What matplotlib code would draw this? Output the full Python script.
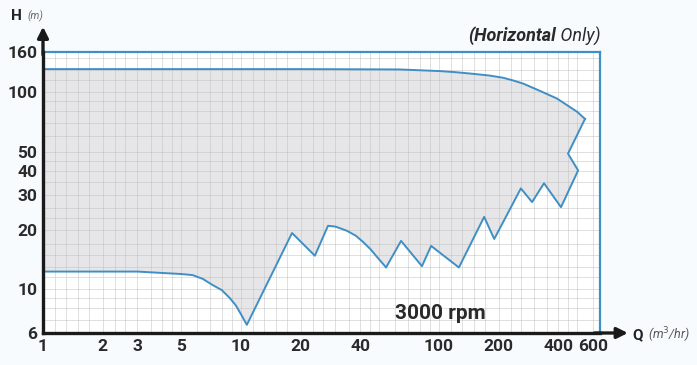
import matplotlib.pyplot as plt
import numpy as np

# upper limit curve (flow Q in m3/hr, head H in m)
top_q = [1, 20, 63, 101, 120, 148.5, 180, 210, 235, 266, 324, 394, 443, 498, 546]
top_h = [131, 131, 130.5, 128, 126.5, 124, 121.5, 118.5, 115, 110.6, 101.5, 92.9, 86, 79.6, 73.2]

# lower limit curve, read left to right
low_q = [1, 3, 4, 5, 5.7, 6.4, 7.2, 8.0, 8.8, 9.4, 9.9, 10.7, 18.1, 23.6, 27.5, 30, 34.3, 38,
         41.3, 45, 48.6, 52, 54, 64.3, 82, 91.2, 126, 169, 190, 259, 295, 339, 413, 504, 448, 546]
low_h = [12.3, 12.3, 12.1, 11.95, 11.8, 11.3, 10.5, 9.9, 9.0, 8.3, 7.6, 6.6, 19.3, 14.8, 21.0, 20.8,
         19.8, 18.7, 17.4, 16.0, 14.6, 13.5, 12.9, 17.6, 13.1, 16.6, 12.9, 23.3, 18.0, 32.5, 27.7,
         34.5, 26.1, 40.1, 48.8, 73.2]

x_ticks = [1, 2, 3, 5, 10, 20, 40, 100, 200, 400, 600]
y_ticks = [6, 10, 20, 30, 40, 50, 100, 160]

blue = '#3f8fc4'
font = ['Liberation Sans Narrow', 'Roboto', 'DejaVu Sans']
plt.rcParams['font.family'] = font

fig = plt.figure(figsize=(6.97, 3.65), dpi=100)
fig.patch.set_facecolor('#f8fbfd')
ax = fig.add_axes([43/697, 32/365, 557/697, 281/365])
ax.set_facecolor('white')
ax.set_xscale('log'); ax.set_yscale('log')
ax.set_xlim(1, 650); ax.set_ylim(6, 160)

# shaded operating range
poly_q = top_q + low_q[::-1]
poly_h = top_h + low_h[::-1]
ax.fill(poly_q, poly_h, color='#e6e6e8', lw=0, zorder=1)
ax.plot(top_q, top_h, color=blue, lw=1.4, zorder=4)
ax.plot(low_q, low_h, color=blue, lw=1.4, zorder=4)

# graph-paper grid
subs = [1, 1.15, 1.3, 1.5, 1.7, 2, 2.3, 2.6, 3, 3.5, 4, 4.5, 5, 6, 7, 8, 9]
for d in [1, 10, 100]:
    for s in subs:
        v = d * s
        if v < 650:
            ax.axvline(v, color='#bdbdbd', lw=0.6, alpha=0.55, zorder=2)
        if 6 < v < 160:
            ax.axhline(v, color='#bdbdbd', lw=0.6, alpha=0.55, zorder=2)

ax.set_xticks(x_ticks)
ax.set_xticklabels([str(t) for t in x_ticks])
ax.set_yticks(y_ticks)
ax.set_yticklabels([str(t) for t in y_ticks])
ax.minorticks_off()
ax.tick_params(length=0, labelsize=12.5, labelcolor='#2a2a2a', pad=4)
for lab in ax.get_xticklabels() + ax.get_yticklabels():
    lab.set_fontweight('bold')

for s in ['left', 'bottom']:
    ax.spines[s].set_color('#1a1a1a'); ax.spines[s].set_linewidth(2.4); ax.spines[s].set_zorder(6)
for s in ['top', 'right']:
    ax.spines[s].set_color(blue); ax.spines[s].set_linewidth(1.6)

# axis arrows
ax.annotate('', xy=(0, 1.09), xytext=(0, 0.99), xycoords='axes fraction',
            arrowprops=dict(arrowstyle='-|>', lw=2.4, color='#1a1a1a', mutation_scale=16,
                            shrinkA=0, shrinkB=0))
ax.annotate('', xy=(1.05, 0), xytext=(0.99, 0), xycoords='axes fraction',
            arrowprops=dict(arrowstyle='-|>', lw=2.4, color='#1a1a1a', mutation_scale=16,
                            shrinkA=0, shrinkB=0))

fig.text(11/697, 1 - 16/365, 'H', fontsize=11, fontweight='bold', color='#222222', va='center')
fig.text(27/697, 1 - 16/365, '(m)', fontsize=7.5, style='italic', color='#666666', va='center')
fig.text(632/697, 1 - 335/365, 'Q', fontsize=11, fontweight='bold', color='#222222', va='center')
fig.text(648/697, 1 - 335/365, '(m$^3$/hr)', fontsize=9, style='italic', color='#555555', va='center')

ax.text(0.713, 0.07, '3000 rpm', transform=ax.transAxes, fontsize=15, fontweight='bold',
        color='#2a2a2a', ha='center', va='center', zorder=7)

# title pieces, right edge aligned with the frame
only = fig.text(601/697, 1 - 36/365, ' Only)', fontsize=13, style='italic', color='#2a2a2a',
                ha='right', va='center')
fig.canvas.draw()
w = only.get_window_extent().width
fig.text((601 - w)/697, 1 - 36/365, '(Horizontal', fontsize=13, fontweight='bold', style='italic',
         color='#2a2a2a', ha='right', va='center')

fig.savefig('out.png', dpi=100, facecolor=fig.get_facecolor())
